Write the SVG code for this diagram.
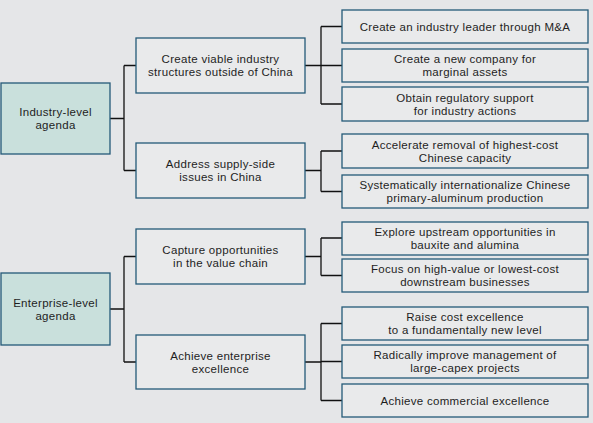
<svg xmlns="http://www.w3.org/2000/svg" width="593" height="423" viewBox="0 0 593 423">
<style>
.bg{fill:#e5e6e8}
.box{fill:#e9eaeb;stroke:#245a78;stroke-width:1.3}
.lead{fill:#c9e0dc;stroke:#245a78;stroke-width:1.3}
.con{fill:none;stroke:#111;stroke-width:1.3}
text{font-family:"Liberation Sans",Arial,sans-serif;font-size:11.5px;letter-spacing:0.3px;fill:#1e1e1e;text-anchor:middle}
</style>
<rect class="bg" x="0" y="0" width="593" height="423"/>
<g id="connectors">
<path class="con" d="M110,118.5H124M124,65.5V170.5M124,65.5H136M124,170.5H136"/>
<path class="con" d="M110,309H124M124,256.5V362M124,256.5H136M124,362H136"/>
<path class="con" d="M305,65.5H321M321,26.5V104M321,26.5H342M321,65.5H342M321,104H342"/>
<path class="con" d="M305,170.5H321M321,151V191.5M321,151H342M321,191.5H342"/>
<path class="con" d="M305,256.5H321M321,238V275.5M321,238H342M321,275.5H342"/>
<path class="con" d="M305,362H321M321,323.5V400.5M321,323.5H342M321,361.5H342M321,400.5H342"/>
</g>
<g id="industry"><rect class="lead" x="1" y="83" width="109" height="71"/><text x="55.5" y="116">Industry-level</text><text x="55.5" y="129">agenda</text></g>
<g id="enterprise"><rect class="lead" x="1" y="273" width="109" height="72"/><text x="55.5" y="306.5">Enterprise-level</text><text x="55.5" y="319.5">agenda</text></g>
<g id="m1"><rect class="box" x="136" y="38" width="169" height="55"/><text x="220.5" y="63">Create viable industry</text><text x="220.5" y="76">structures outside of China</text></g>
<g id="m2"><rect class="box" x="136" y="143" width="169" height="55"/><text x="220.5" y="168">Address supply-side</text><text x="220.5" y="181">issues in China</text></g>
<g id="m3"><rect class="box" x="136" y="229" width="169" height="55"/><text x="220.5" y="254">Capture opportunities</text><text x="220.5" y="267">in the value chain</text></g>
<g id="m4"><rect class="box" x="136" y="335" width="169" height="54"/><text x="220.5" y="359.5">Achieve enterprise</text><text x="220.5" y="372.5">excellence</text></g>
<g id="r1"><rect class="box" x="342" y="10" width="246" height="33"/><text x="465" y="30.5">Create an industry leader through M&amp;A</text></g>
<g id="r2"><rect class="box" x="342" y="49" width="246" height="33"/><text x="465" y="63">Create a new company for</text><text x="465" y="76">marginal assets</text></g>
<g id="r3"><rect class="box" x="342" y="87" width="246" height="34"/><text x="465" y="101.5">Obtain regulatory support</text><text x="465" y="114.5">for industry actions</text></g>
<g id="r4"><rect class="box" x="342" y="134" width="246" height="34"/><text x="465" y="148.5">Accelerate removal of highest-cost</text><text x="465" y="161.5">Chinese capacity</text></g>
<g id="r5"><rect class="box" x="342" y="175" width="246" height="33"/><text x="465" y="189">Systematically internationalize Chinese</text><text x="465" y="202">primary-aluminum production</text></g>
<g id="r6"><rect class="box" x="342" y="222" width="246" height="33"/><text x="465" y="236">Explore upstream opportunities in</text><text x="465" y="249">bauxite and alumina</text></g>
<g id="r7"><rect class="box" x="342" y="259" width="246" height="33"/><text x="465" y="273">Focus on high-value or lowest-cost</text><text x="465" y="286">downstream businesses</text></g>
<g id="r8"><rect class="box" x="342" y="307" width="246" height="33"/><text x="465" y="321">Raise cost excellence</text><text x="465" y="334">to a fundamentally new level</text></g>
<g id="r9"><rect class="box" x="342" y="345" width="246" height="33"/><text x="465" y="359">Radically improve management of</text><text x="465" y="372">large-capex projects</text></g>
<g id="r10"><rect class="box" x="342" y="384" width="246" height="33"/><text x="465" y="404.5">Achieve commercial excellence</text></g>
</svg>
